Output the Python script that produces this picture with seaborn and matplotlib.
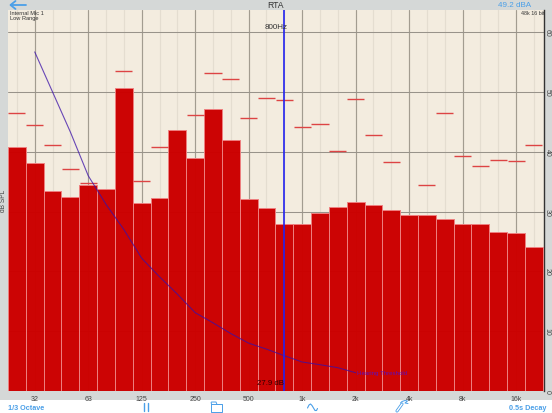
import numpy as np
import pandas as pd
import matplotlib
matplotlib.use("Agg")
import matplotlib.pyplot as plt
from matplotlib.patches import Rectangle
import seaborn as sns

bands = ["25", "32", "40", "50", "63", "80", "100", "125", "160", "200",
         "250", "315", "400", "500", "630", "800", "1k", "1.25k", "1.6k", "2k",
         "2.5k", "3.15k", "4k", "5k", "6.3k", "8k", "10k", "12.5k", "16k", "20k"]
levels = [40.85, 38.2, 33.4, 32.4, 34.4, 33.7, 50.7, 31.4, 32.2, 43.6,
          38.9, 47.2, 41.9, 32.1, 30.65, 27.9, 28.0, 29.7, 30.8, 31.6,
          31.05, 30.2, 29.4, 29.5, 28.7, 28.0, 27.9, 26.6, 26.4, 24.0]
peaks = [46.5, 44.5, 41.2, 37.2, 34.8, np.nan, 53.5, 35.2, 40.75, np.nan,
         46.1, 53.2, 52.1, 45.7, 49.0, 48.7, 44.1, 44.6, 40.1, 48.9,
         42.8, 38.3, np.nan, 34.4, 46.5, 39.3, 37.7, 38.6, 38.5, 41.2]
threshold_bands = list(range(1, 20))
threshold_db = [56.7, 50.0, 43.3, 36.0, 31.2, 27.0, 22.2, 19.1, 16.2, 13.1,
                11.4, 9.6, 8.0, 7.0, 5.9, 4.85, 4.4, 3.9, 3.06]
x_tick_labels = {1: "32", 4: "63", 7: "125", 10: "250", 13: "500",
                 16: "1k", 19: "2k", 22: "4k", 25: "8k", 28: "16k"}
y_ticks = [0, 10, 20, 30, 40, 50, 60]

W, H = 552, 414
BLUE = "#4a9fe8"
RED = "#cc0000"
GREY = "#d5d8d7"
PAPER = "#f3ecdf"
TXT = "#333333"

sns.set_theme(style="white", rc={"font.family": ["Liberation Sans", "DejaVu Sans"]})
fig = plt.figure(figsize=(W / 100, H / 100), dpi=100, facecolor="white")

# chrome layer in pixel coordinates
bg = fig.add_axes([0, 0, 1, 1], zorder=0)
bg.set_xlim(0, W); bg.set_ylim(H, 0); bg.axis("off")
bg.add_patch(Rectangle((0, 0), W, 401, fc=GREY, ec="none"))
bg.add_patch(Rectangle((0, 401), W, 13, fc="white", ec="none"))

# chart
L, R, T, B = 8, 543.5, 11, 392
ax = fig.add_axes([L / W, 1 - B / H, (R - L) / W, (B - T) / H], zorder=1)
ax.set_facecolor(PAPER)
df = pd.DataFrame({"band": bands, "level": levels, "peak": peaks})
sns.barplot(data=df, x="band", y="level", order=bands, color=RED, saturation=1,
            width=1.0, edgecolor="#ee8080", linewidth=0.7, alpha=0.985, ax=ax, zorder=3)
step = (542.8 - L) / 30
ax.set_xlim(-0.5, -0.5 + (R - L) / step)
ax.set_ylim(0, (B - T) / 5.98)

for i in range(len(bands)):
    if i in x_tick_labels:
        ax.axvline(i, color="#a29c90", lw=0.85, zorder=1.5)
    else:
        ax.axvline(i, color="#e4ddd0", lw=0.9, zorder=1)
for v in y_ticks[1:]:
    ax.axhline(v, color="#98938a", lw=0.75, zorder=1.6)

idx = np.arange(len(bands))
ax.hlines(df["peak"], idx - 0.48, idx + 0.48, color="#dd4444", lw=1.0, zorder=4)

sns.lineplot(x=threshold_bands, y=threshold_db, color="#3a10a8", lw=0.8, alpha=0.75,
             ax=ax, zorder=5, estimator=None, sort=False)
ax.text(19.05, threshold_db[-1], "Hearing Threshold", color="#5a10c0", fontsize=4.4,
        va="center", ha="left", zorder=6)
ax.axvline(15, color="#2222ee", lw=1.2, zorder=6)
ax.text(14.95, 0.8, "27.9 dB", color="#300000", fontsize=5.6, ha="right", va="bottom", zorder=7)
ax.text(14.55, 60.9, "800Hz", color=TXT, fontsize=5.8, ha="center", va="center", zorder=7)

ax.set_xticks(sorted(x_tick_labels))
ax.set_xticklabels([x_tick_labels[k] for k in sorted(x_tick_labels)], fontsize=5, color="#444444")
ax.yaxis.tick_right()
ax.set_yticks(y_ticks)
ax.set_yticklabels([str(v) for v in y_ticks], fontsize=5, color="#444444", rotation=270,
                   va="center", ha="left")
ax.tick_params(axis="x", length=0, pad=3)
ax.tick_params(axis="y", length=0, pad=0.2)
ax.set_xlabel(""); ax.set_ylabel("")
for s in ("top", "left", "bottom"):
    ax.spines[s].set_visible(False)
ax.spines["right"].set_color("#333333")
ax.spines["right"].set_linewidth(1.0)

# overlay text and icons in pixel coordinates
fg = fig.add_axes([0, 0, 1, 1], zorder=2)
fg.set_xlim(0, W); fg.set_ylim(H, 0); fg.axis("off"); fg.patch.set_alpha(0)
fg.text(275, 5.8, "RTA", fontsize=6.2, ha="center", va="center", color=TXT)
fg.text(515, 5.8, "49.2 dBA", fontsize=5.8, ha="center", va="center", color=BLUE)
fg.text(532.5, 13.5, "48k 16 bit", fontsize=3.9, ha="center", va="center", color=TXT)
fg.text(9.5, 13.3, "Internal Mic 1", fontsize=4.1, ha="left", va="center", color=TXT)
fg.text(9.5, 18.8, "Low Range", fontsize=4.1, ha="left", va="center", color=TXT)
fg.text(4, 201, "dB SPL", fontsize=4.8, rotation=90, ha="center", va="center", color="#444444")
fg.text(8, 408.5, "1/3 Octave", fontsize=5.2, ha="left", va="center", color=BLUE, fontweight="bold")
fg.text(546, 408.5, "0.5s Decay", fontsize=5.2, ha="right", va="center", color=BLUE, fontweight="bold")

# back arrow
fg.plot([11, 25.5], [6, 6], color=BLUE, lw=1.3)
fg.plot([15.5, 10.5, 15.5], [2, 6, 10], color=BLUE, lw=1.3)
# pause
fg.plot([143.7, 143.7], [404.5, 412.5], color=BLUE, lw=1.0)
fg.plot([147.7, 147.7], [404.5, 412.5], color=BLUE, lw=1.0)
# folder
fg.plot([211, 211, 221.5, 221.5, 211], [404, 413.5, 413.5, 405.5, 405.5], color=BLUE, lw=0.7)
fg.plot([211, 211.5, 216, 217, 221.5], [404, 403, 403, 405.5, 405.5], color=BLUE, lw=0.7)
# wave
wave_x = [307.5, 309, 310.5, 312, 313.5, 315, 316.5, 317.5]
wave_y = [409, 406, 405, 406.5, 409, 411.5, 411.5, 409.5]
fg.plot(wave_x, wave_y, color=BLUE, lw=0.8)
# wrench
fg.plot([397, 402], [412, 405], color=BLUE, lw=2.2, solid_capstyle="round")
fg.plot([397, 402], [412, 405], color="white", lw=1.0, solid_capstyle="round")
fg.plot([400.5, 402, 405, 407.5, 405, 408], [404, 402.5, 401.5, 402, 404, 404.5], color=BLUE, lw=0.7)

fig.savefig("out.png", dpi=100)
